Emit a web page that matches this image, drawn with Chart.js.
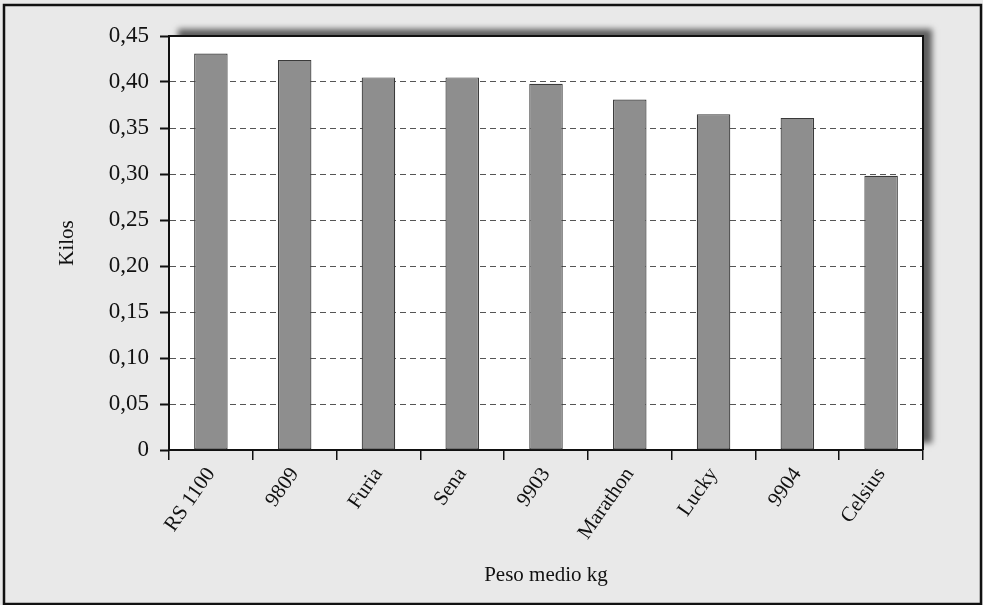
<!DOCTYPE html>
<html>
<head>
<meta charset="utf-8">
<script src="https://cdn.jsdelivr.net/npm/chart.js@4"></script>
<style>
  html, body { margin: 0; padding: 0; background: #e8e8e8; }
  #wrap { width: 983px; height: 605px; }
</style>
</head>
<body>
<div id="wrap"><canvas id="c"></canvas></div>
<script>
// Peso medio por variedad.
const varieties = ["RS 1100", "9809", "Furia", "Sena", "9903", "Marathon", "Lucky", "9904", "Celsius"];
const weights = [0.431, 0.424, 0.405, 0.405, 0.398, 0.381, 0.365, 0.361, 0.298];
const yTicks = [0, 0.05, 0.10, 0.15, 0.20, 0.25, 0.30, 0.35, 0.40, 0.45];

const serif = "'Liberation Serif', 'DejaVu Serif', serif";

// Grey page, drop shadow under the white plot, and the outer frame.
const paper = {
  id: "paper",
  beforeDraw(chart) {
    const { ctx, width, height, chartArea: a } = chart;
    ctx.save();
    ctx.fillStyle = "#e9e9e9";
    ctx.fillRect(0, 0, width, height);
    ctx.shadowColor = "rgba(0,0,0,0.6)";
    ctx.shadowBlur = 6;
    ctx.shadowOffsetX = 9;
    ctx.shadowOffsetY = -7;
    ctx.fillStyle = "#fff";
    ctx.fillRect(a.left, a.top, a.right - a.left, a.bottom - a.top);
    ctx.restore();
  },
  afterDraw(chart) {
    const { ctx, width, height, chartArea: a } = chart;
    ctx.save();
    ctx.strokeStyle = "#111";
    ctx.lineWidth = 2;
    ctx.beginPath();
    ctx.moveTo(a.left, a.top);
    ctx.lineTo(a.right, a.top);
    ctx.lineTo(a.right, a.bottom);
    ctx.stroke();
    ctx.lineWidth = 2.5;
    ctx.strokeRect(4, 5, width - 6, height - 6);
    ctx.restore();
  },
};

new Chart(document.getElementById("c"), {
  type: "bar",
  data: {
    labels: varieties,
    datasets: [{
      data: weights,
      backgroundColor: "#8e8e8e",
      borderColor: "#3a3a3a",
      borderWidth: 1.2,
      borderSkipped: false,
      barPercentage: 0.4,
      categoryPercentage: 1,
    }],
  },
  plugins: [paper],
  options: {
    responsive: true,
    maintainAspectRatio: false,
    animation: false,
    layout: { padding: { top: 36, right: 60, left: 0, bottom: 0 } },
    plugins: { legend: { display: false }, tooltip: { enabled: false } },
    scales: {
      x: {
        afterFit: (s) => { s.height = 155; },
        grid: { drawOnChartArea: false, color: "#111", tickLength: 10, lineWidth: 1.5 },
        border: { color: "#111", width: 2 },
        ticks: {
          color: "#111", autoSkip: false, minRotation: 55, maxRotation: 55, padding: 3,
          font: { family: serif, size: 21 },
        },
        title: {
          display: true, text: "Peso medio kg", color: "#111",
          font: { family: serif, size: 21 }, padding: { bottom: 17 },
        },
      },
      y: {
        min: 0,
        max: 0.45,
        afterFit: (s) => { s.width = 169; },
        afterBuildTicks: (s) => { s.ticks = yTicks.map((v) => ({ value: v })); },
        grid: { color: "#555", tickColor: "#111", tickLength: 9, tickWidth: 2, lineWidth: 1 },
        border: { color: "#111", width: 2, dash: [6, 4] },
        ticks: {
          color: "#111", padding: 11,
          font: { family: serif, size: 23 },
          callback: (v) => (v === 0 ? "0" : v.toFixed(2).replace(".", ",")),
        },
        title: {
          display: true, text: "Kilos", color: "#111",
          font: { family: serif, size: 21 }, padding: { top: 55 },
        },
      },
    },
  },
});
</script>
</body>
</html>
